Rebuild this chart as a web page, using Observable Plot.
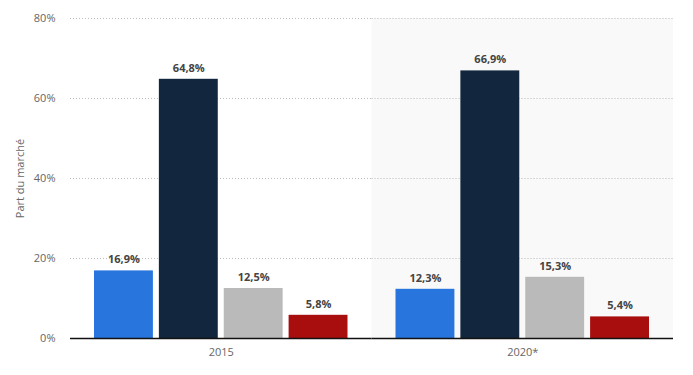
<!DOCTYPE html>
<html>
<head>
<meta charset="utf-8">
<script src="https://cdn.jsdelivr.net/npm/d3@7"></script>
<script src="https://cdn.jsdelivr.net/npm/@observablehq/plot@0.6"></script>
<style>
  html, body { margin: 0; padding: 0; background: #fff; }
  #chart svg { display: block; }
</style>
</head>
<body>
<div id="chart"></div>
<script>
const years = ["2015", "2020*"];
const series = ["Série 1", "Série 2", "Série 3", "Série 4"];
const values2015 = [16.9, 64.8, 12.5, 5.8];
const values2020 = [12.3, 66.9, 15.3, 5.4];
const colors = ["#2876dd", "#12263d", "#bababa", "#a80e0e"];
const yTicks = [0, 20, 40, 60, 80];

const data = [];
[values2015, values2020].forEach((vals, i) => {
  vals.forEach((v, j) => data.push({year: years[i], series: series[j], value: v}));
});
const highlight = [{year: "2020*"}];
const fmt = v => v.toFixed(1).replace(".", ",") + "%";

const chart = Plot.plot({
  width: 693,
  height: 375,
  marginLeft: 70,
  marginRight: 20,
  marginTop: 18,
  marginBottom: 37,
  style: {fontFamily: "'Open Sans', sans-serif", fontSize: "11px", color: "#666", background: "#fff"},
  fx: {domain: years, padding: 0, round: false, axis: "bottom", label: null, tickSize: 0, tickPadding: 10},
  x: {domain: series, paddingInner: 0.092, paddingOuter: 0.37, round: false, axis: null},
  y: {domain: [0, 80], ticks: yTicks, tickFormat: d => d + "%", tickSize: 0, tickPadding: 15,
      label: "Part du marché", labelArrow: "none", labelAnchor: "center", labelOffset: 54},
  color: {domain: series, range: colors},
  marks: [
    Plot.barY(highlight, {fx: "year", y1: 0, y2: 80, fill: "#f9f9f9"}),
    Plot.gridY(yTicks.slice(1), {stroke: "#bbb", strokeOpacity: 1, strokeDasharray: "1,2"}),
    Plot.barY(data, {fx: "year", x: "series", y: "value", fill: "series"}),
    Plot.text(data, {fx: "year", x: "series", y: "value", text: d => fmt(d.value),
      dy: -11, fontWeight: "bold", fill: "#444", fontSize: 11}),
    Plot.ruleY([0], {stroke: "#111", strokeWidth: 1.3})
  ]
});
document.getElementById("chart").appendChild(chart);
</script>
</body>
</html>
